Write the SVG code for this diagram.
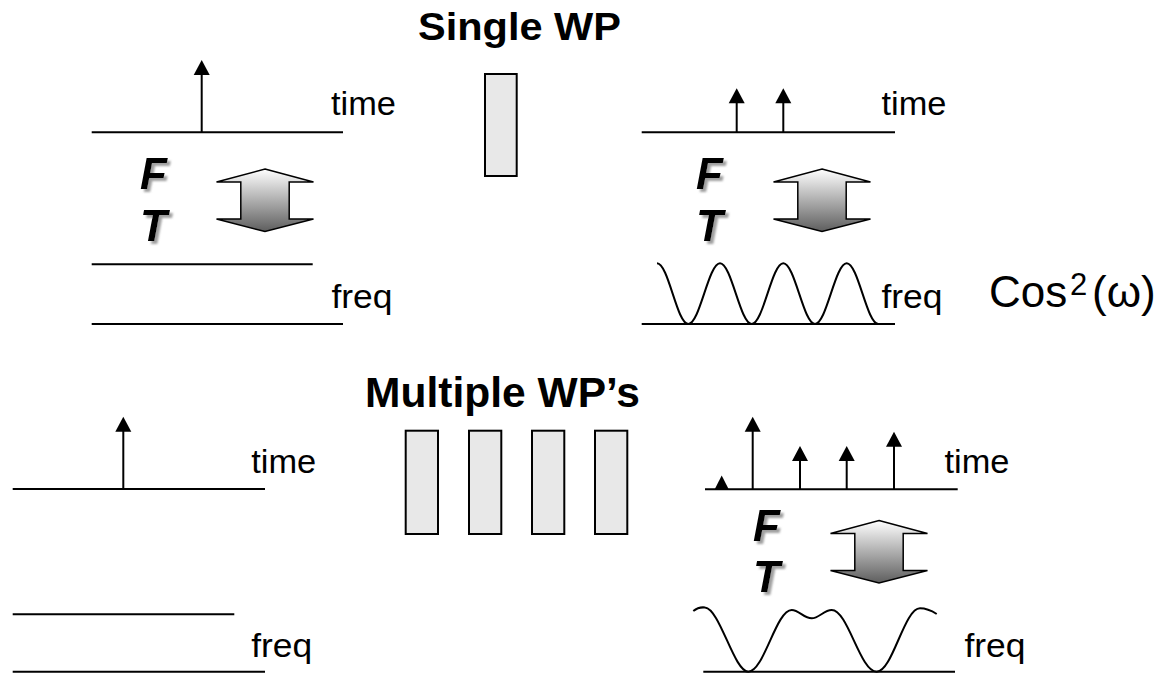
<svg xmlns="http://www.w3.org/2000/svg" xmlns:xlink="http://www.w3.org/1999/xlink" width="1159" height="673" viewBox="0 0 1159 673">
<style>
.ln{stroke:#000;stroke-width:2;fill:none}
.lbl{font-family:"Liberation Sans",Arial,sans-serif;font-size:34px;fill:#000}
.cos{font-family:"Liberation Sans",Arial,sans-serif;font-size:44px;fill:#000}
.sup{font-size:31px}
.ttl{font-family:"Liberation Sans",Arial,sans-serif;font-weight:bold;fill:#000}
.ft{font-family:"Liberation Sans",Arial,sans-serif;font-weight:bold;font-style:italic;font-size:44px;fill:#000}
.wp{fill:#e8e8e8;stroke:#000;stroke-width:2}
.ba{fill:url(#grad);stroke:#000;stroke-width:1.5;stroke-linejoin:miter}
</style>
<defs>
<linearGradient id="grad" x1="0" y1="0" x2="0" y2="1">
<stop offset="0" stop-color="#ffffff"/>
<stop offset="1" stop-color="#5e5e5e"/>
</linearGradient>
<filter id="sh" x="-30%" y="-30%" width="160%" height="160%">
<feGaussianBlur in="SourceAlpha" stdDeviation="1.2"/>
<feOffset dx="2.5" dy="2.5" result="b"/>
<feFlood flood-color="#888" flood-opacity="0.8"/>
<feComposite in2="b" operator="in"/>
<feMerge><feMergeNode/><feMergeNode in="SourceGraphic"/></feMerge>
</filter>
<path id="ah" d="M0,0 L8,15 L-8,15 Z" fill="#000"/>
<path id="blk" class="ba" d="M0,0 L48.5,13 L24.2,13 L24.2,50 L48.5,50 L0,62.5 L-48.5,50 L-24.2,50 L-24.2,13 L-48.5,13 Z"/>
</defs>
<rect width="1159" height="673" fill="#fff"/>

<g id="title-single">
<text class="ttl" x="418" y="39.5" font-size="38" textLength="203" lengthAdjust="spacingAndGlyphs">Single WP</text>
</g>

<g id="panel-single-left">
<line class="ln" x1="91.7" y1="132.3" x2="343" y2="132.3"/>
<line class="ln" x1="201.7" y1="132.3" x2="201.7" y2="74"/>
<use xlink:href="#ah" x="201.7" y="60"/>
<text class="lbl" x="331" y="115" textLength="65" lengthAdjust="spacingAndGlyphs">time</text>
<text class="ft" x="140" y="189" filter="url(#sh)">F</text>
<text class="ft" x="140" y="241" filter="url(#sh)">T</text>
<line class="ln" x1="91.7" y1="264.3" x2="312.7" y2="264.3"/>
<line class="ln" x1="91.7" y1="324" x2="343" y2="324"/>
<text class="lbl" x="331.5" y="308" textLength="61" lengthAdjust="spacingAndGlyphs">freq</text>
</g>

<g id="wp-single">
<rect class="wp" x="485" y="74" width="31.7" height="102"/>
</g>

<g id="panel-single-right">
<line class="ln" x1="641.7" y1="132.3" x2="895" y2="132.3"/>
<line class="ln" x1="736.7" y1="132.3" x2="736.7" y2="102"/>
<use xlink:href="#ah" x="736.7" y="88.3"/>
<line class="ln" x1="783.3" y1="132.3" x2="783.3" y2="102"/>
<use xlink:href="#ah" x="783.3" y="88.3"/>
<text class="lbl" x="881.5" y="115" textLength="65" lengthAdjust="spacingAndGlyphs">time</text>
<text class="ft" x="696" y="189" filter="url(#sh)">F</text>
<text class="ft" x="696" y="241" filter="url(#sh)">T</text>
<path class="ln" d="M657,263.3 C668.5,263.3 676.8,324 688.3,324 C699.8,324 708.5,263.3 720,263.3 C731.5,263.3 740.2,324 751.7,324 C763.2,324 771.8,263.3 783.3,263.3 C794.8,263.3 803.5,324 815,324 C826.5,324 835.2,263.3 846.7,263.3 C858.2,263.3 866.8,324 878.3,324"/>
<line class="ln" x1="641.7" y1="324" x2="895" y2="324"/>
<text class="lbl" x="881.5" y="308" textLength="61" lengthAdjust="spacingAndGlyphs">freq</text>
</g>

<g id="cos-label">
<text class="cos" x="989" y="306.7">Cos<tspan class="sup" x="1070" y="295">2</tspan><tspan x="1092" y="306.7">(ω)</tspan></text>
</g>

<g id="title-multiple">
<text class="ttl" x="365" y="407" font-size="42" textLength="275" lengthAdjust="spacingAndGlyphs">Multiple WP’s</text>
</g>

<g id="panel-multiple-left">
<line class="ln" x1="12.7" y1="489" x2="265" y2="489"/>
<line class="ln" x1="123.3" y1="489" x2="123.3" y2="430"/>
<use xlink:href="#ah" x="123.3" y="416.7"/>
<text class="lbl" x="251.2" y="473.3" textLength="65" lengthAdjust="spacingAndGlyphs">time</text>
<line class="ln" x1="12.7" y1="614.3" x2="234.3" y2="614.3"/>
<line class="ln" x1="12.7" y1="671.7" x2="265" y2="671.7"/>
<text class="lbl" x="251.2" y="656.5" textLength="61" lengthAdjust="spacingAndGlyphs">freq</text>
</g>

<g id="wp-multiple">
<rect class="wp" x="405.7" y="430.7" width="32.3" height="103.3"/>
<rect class="wp" x="469" y="430.7" width="32.3" height="103.3"/>
<rect class="wp" x="532" y="430.7" width="32.3" height="103.3"/>
<rect class="wp" x="595" y="430.7" width="32.3" height="103.3"/>
</g>

<g id="panel-multiple-right">
<line class="ln" x1="705" y1="489.3" x2="957.7" y2="489.3"/>
<path d="M721.7,475.5 L728.7,489.3 L714.7,489.3 Z" fill="#000"/>
<line class="ln" x1="752.7" y1="489.3" x2="752.7" y2="430"/>
<use xlink:href="#ah" x="752.7" y="416.7"/>
<line class="ln" x1="800" y1="489.3" x2="800" y2="460"/>
<use xlink:href="#ah" x="800" y="446"/>
<line class="ln" x1="846.7" y1="489.3" x2="846.7" y2="460"/>
<use xlink:href="#ah" x="846.7" y="446"/>
<line class="ln" x1="894" y1="489.3" x2="894" y2="445"/>
<use xlink:href="#ah" x="894" y="431.7"/>
<text class="lbl" x="944.5" y="473.3" textLength="65" lengthAdjust="spacingAndGlyphs">time</text>
<text class="ft" x="753" y="540.5" filter="url(#sh)">F</text>
<text class="ft" x="753" y="591.5" filter="url(#sh)">T</text>
<path class="ln" d="M693.3,611 C697,608 701,607 705,607.5 C720,609 734,671.7 748.3,671.7 C764,671.7 776,610 791.7,610 C799,610 804,618.3 811.7,618.3 C819,618.3 824,610 831.7,610 C848,610 860,671.7 876.7,671.7 C892.5,671.7 904.2,608.3 920,608.3 C927,608.3 932,611 936.7,614"/>
<line class="ln" x1="703.3" y1="671.7" x2="955" y2="671.7"/>
<text class="lbl" x="964.5" y="656.5" textLength="61" lengthAdjust="spacingAndGlyphs">freq</text>
</g>

<g id="connectors">
<use xlink:href="#blk" transform="translate(265,169)"/>
<use xlink:href="#blk" transform="translate(822,169)"/>
<use xlink:href="#blk" transform="translate(879,520.5)"/>
</g>
</svg>
